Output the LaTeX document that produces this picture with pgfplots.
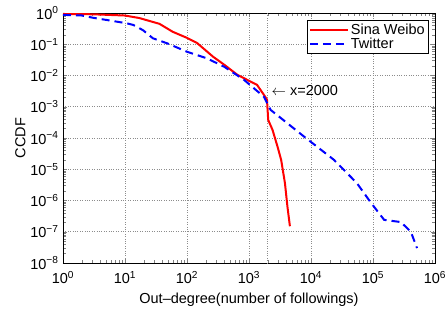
\documentclass[border=0pt]{standalone}
\usepackage{fontspec}
\setmainfont{Liberation Sans}
\usepackage{pgfplots}
\pgfplotsset{compat=1.18}
\usetikzlibrary{calc}
\begin{document}
\begin{tikzpicture}
\begin{axis}[
  name=ax,
  scale only axis,
  width=372pt, height=250pt,
  xmode=log, ymode=log,
  xmin=1, xmax=1e6, ymin=1e-8, ymax=1,
  font=\fontsize{14.5}{16}\selectfont,
  xtick={1,10,100,1000,10000,100000,1000000},
  xticklabels={10\textsuperscript{0},10\textsuperscript{1},10\textsuperscript{2},10\textsuperscript{3},10\textsuperscript{4},10\textsuperscript{5},10\textsuperscript{6}},
  ytick={1e-8,1e-7,1e-6,1e-5,1e-4,1e-3,1e-2,1e-1,1},
  yticklabels={10\textsuperscript{−8},10\textsuperscript{−7},10\textsuperscript{−6},10\textsuperscript{−5},10\textsuperscript{−4},10\textsuperscript{−3},10\textsuperscript{−2},10\textsuperscript{−1},10\textsuperscript{0}},
  xticklabel style={yshift=-5pt},
  yticklabel style={xshift=-1pt},
  extra x ticks={2000}, extra x tick labels={},
  extra x tick style={grid=major, major tick length=0pt},
  grid=major,
  major grid style={dotted, line width=0.6pt, gray!90},
  axis line style={line width=0.8pt},
  xlabel={Out–degree(number of followings)},
  ylabel={CCDF},
  xlabel style={yshift=-2pt},
  ylabel style={yshift=-2pt},
  legend style={at={(0.983,0.972)}, anchor=north east, draw=black, line width=0.8pt, font=\fontsize{14.5}{16}\selectfont, inner sep=1.5pt, row sep=-2pt, cells={anchor=west}},
  legend cell align=left,
  legend image code/.code={\draw[#1] (0pt,0pt) -- (38pt,0pt);},
]
\addplot[red, line width=2pt] coordinates {
(1,0.93) (3,0.91) (10,0.83) (17,0.69) (36,0.45) (59,0.25) (100,0.16) (145,0.11)
(263,0.04) (400,0.022) (650,0.0105) (1350,0.005) (1740,0.0024) (1950,0.0017)
(2040,3.8e-4) (2400,1.8e-4) (2900,5.1e-5) (3300,2e-5) (3800,3.6e-6) (4170,6.3e-7) (4570,1.5e-7)
};
\addlegendentry{Sina Weibo}
\addplot[blue, line width=2pt, dash pattern=on 8pt off 5pt] coordinates {
(1,0.871) (2,0.832) (3,0.708) (10.7,0.468) (13.5,0.417) (19.5,0.282) (28.2,0.155)
(47.9,0.107) (100,0.0575) (209,0.0355) (398,0.0191) (832,0.00724) (1738,0.00209)
(2239,7.9e-4) (7762,1.1e-4) (23440,2.0e-5) (54950,3.6e-6) (93330,8.3e-7)
(151400,2.4e-7) (281800,2.04e-7) (407400,1e-7) (512900,3.0e-8)
};
\addlegendentry{Twitter}
\node[anchor=west, inner sep=0pt] at (axis cs:2300,3.2e-3) {$\leftarrow$ x=2000};
\end{axis}
\pgfresetboundingbox
\path[use as bounding box] ($(ax.south west)+(-63pt,-46pt)$) rectangle ($(ax.north east)+(13pt,13pt)$);
\end{tikzpicture}
\end{document}
